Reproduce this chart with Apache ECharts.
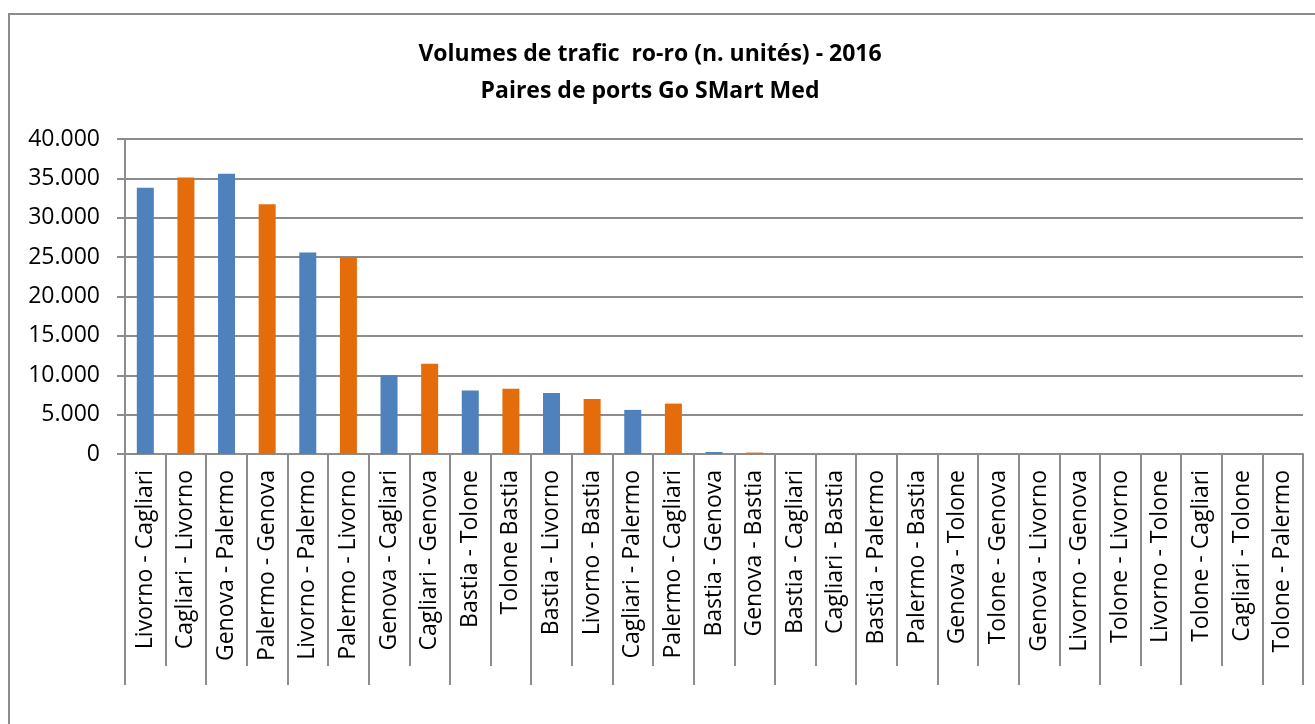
<!DOCTYPE html>
<html>
<head>
<meta charset="utf-8">
<script src="https://cdn.jsdelivr.net/npm/echarts@6/dist/echarts.min.js"></script>
<style>html,body{margin:0;padding:0;background:#fff}#c{width:1315px;height:724px}</style>
</head>
<body>
<div id="c"></div>
<script>
const titleText = 'Volumes de trafic  ro-ro (n. unités) - 2016\nPaires de ports Go SMart Med';
const categories = [
  'Livorno - Cagliari','Cagliari - Livorno','Genova - Palermo','Palermo - Genova',
  'Livorno - Palermo','Palermo - Livorno','Genova - Cagliari','Cagliari - Genova',
  'Bastia - Tolone','Tolone Bastia','Bastia - Livorno','Livorno - Bastia',
  'Cagliari - Palermo','Palermo - Cagliari','Bastia - Genova','Genova - Bastia',
  'Bastia - Cagliari','Cagliari - Bastia','Bastia - Palermo','Palermo - Bastia',
  'Genova - Tolone','Tolone - Genova','Genova - Livorno','Livorno - Genova',
  'Tolone - Livorno','Livorno - Tolone','Tolone - Cagliari','Cagliari - Tolone',
  'Tolone - Palermo'
];
// blue bars (first direction of each pair)
const valuesBlue = [33800,null,35600,null,25600,null,10000,null,8050,null,7750,null,5600,null,250,null,0,null,0,null,0,null,0,null,0,null,0,null,0];
// orange bars (return direction of each pair)
const valuesOrange = [null,35100,null,31700,null,25000,null,11450,null,8300,null,7000,null,6400,null,180,null,0,null,0,null,0,null,0,null,0,null,0,null];
const yTicks = {min: 0, max: 40000, step: 5000};

const gray = '#8C8C8C';
const FONT = 'Open Sans';
function fmt(v){ return String(v).replace(/\B(?=(\d{3})+(?!\d))/g, '.'); }

const chart = echarts.init(document.getElementById('c'));
chart.setOption({
  animation: false,
  backgroundColor: '#fff',
  title: {
    text: titleText,
    left: 650, top: 36, padding: 0, textAlign: 'center',
    textStyle: {fontFamily: FONT, fontWeight: 'bold', fontSize: 23, lineHeight: 37, color: '#000'}
  },
  graphic: [{
    type: 'rect', shape: {x: 9, y: 14, width: 1320, height: 800},
    style: {fill: 'none', stroke: gray, lineWidth: 2}, silent: true, z: -1
  }],
  grid: {left: 125, right: 12, top: 139, bottom: 270, containLabel: false},
  xAxis: [{
    type: 'category', data: categories, position: 'bottom',
    axisLine: {show: true, lineStyle: {color: gray, width: 2}},
    axisTick: {show: true, interval: 0, length: 212, lineStyle: {color: gray, width: 2}},
    axisLabel: {interval: 0, rotate: 90, margin: 16, fontFamily: FONT, fontSize: 23, color: '#000'},
    splitLine: {show: false}
  }, {
    type: 'category', data: categories, position: 'bottom', offset: 0,
    axisLine: {show: false},
    axisTick: {show: true, interval: 1, length: 231, lineStyle: {color: gray, width: 2}},
    axisLabel: {show: false},
    splitLine: {show: false}
  }],
  yAxis: {
    type: 'value', min: yTicks.min, max: yTicks.max, interval: yTicks.step,
    axisLine: {show: true, lineStyle: {color: gray, width: 2}},
    axisTick: {show: true, length: 8, lineStyle: {color: gray, width: 2}},
    axisLabel: {margin: 25, fontFamily: FONT, fontSize: 23, color: '#000', formatter: fmt},
    splitLine: {show: true, lineStyle: {color: gray, width: 2}}
  },
  series: [{
    type: 'bar', stack: 'tot', xAxisIndex: 0, data: valuesBlue, barWidth: 17,
    itemStyle: {color: '#4F81BD'}
  }, {
    type: 'bar', stack: 'tot', xAxisIndex: 0, data: valuesOrange, barWidth: 17,
    itemStyle: {color: '#E46C0A'}
  }]
});
</script>
</body>
</html>
